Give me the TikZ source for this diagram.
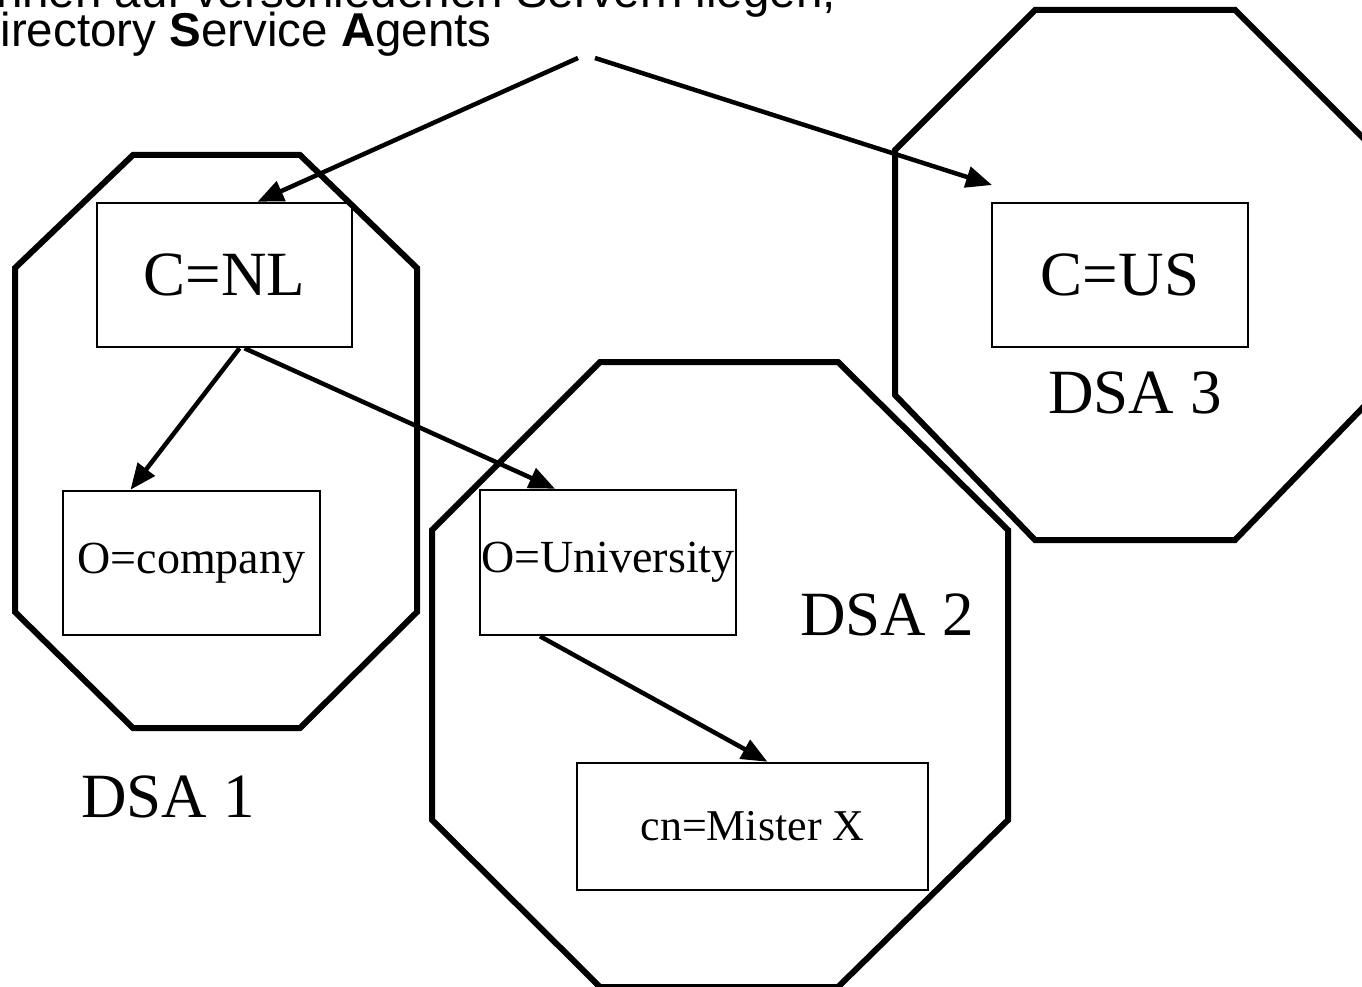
\documentclass[tikz,border=0pt]{standalone}
\usepackage{fontspec}
\setmainfont{Liberation Serif}
\newfontfamily\titlefont{Liberation Sans}
\usetikzlibrary{arrows.meta,calc}
\begin{document}
\begin{tikzpicture}[x=1pt,y=-1pt,
  oct/.style={line width=6pt, line join=miter},
  entry/.style={draw, line width=2.5pt, inner sep=0pt},
  big/.style={font=\fontsize{63}{63}\selectfont},
  small/.style={font=\fontsize{46}{46}\selectfont},
  lbl/.style={inner sep=0pt, font=\fontsize{63}{63}\selectfont},
  arr/.style={line width=4.5pt, -{Triangle[length=26pt,width=21pt]}},
  ttl/.style={inner sep=0pt, font=\titlefont\fontsize{47.5}{47.5}\selectfont}]
\useasboundingbox (0,0) rectangle (1362,987);
\clip (0,0) rectangle (1362,987);
\fill[white] (0,0) rectangle (1362,987);

% title (cut by the picture's edge)
\node[ttl, anchor=base east] (t1) at (836,8) {können auf verschiedenen Servern liegen,};
\node[ttl, anchor=base west] (t2) at (-34,47) {Directory \textbf{S}ervice \textbf{A}gents};

% octagons
\draw[oct] (133,155) -- (300,155) -- (417,268) -- (417,612) -- (300,728) -- (133,728) -- (15,612) -- (15,268) -- cycle;
\draw[oct] (600,362) -- (838,362) -- (1008,530) -- (1008,820) -- (838,987) -- (600,987) -- (432,820) -- (432,530) -- cycle;
\draw[oct] (1035,10) -- (1235,10) -- (1375,150) -- (1375,395) -- (1235,540) -- (1035,540) -- (895,395) -- (895,150) -- cycle;

% entries
\node[entry, big, minimum width=255pt, minimum height=144pt] (cnl) at (224.5,275) {C=NL};
\node[entry, big, minimum width=256pt, minimum height=144pt] (cus) at (1120,275) {C=US};
\node[entry, small, minimum width=257pt, minimum height=144pt] (ocomp) at (191.5,563) {O=company};
\node[entry, small, minimum width=256pt, minimum height=145pt] (ouni) at (608,562.5) {O=University};
\node[entry, font=\fontsize{44}{44}\selectfont, minimum width=351pt, minimum height=127pt] (mx) at (752.5,826.5) {cn=Mister X};

% labels
\node[lbl] (dsa1) at (168,797) {DSA 1};
\node[lbl] (dsa2) at (887,615) {DSA 2};
\node[lbl] (dsa3) at (1135,393) {DSA 3};

% connectors
\coordinate (s1) at (578,58);
\coordinate (s2) at (595,58);
\coordinate (e2) at (992,185);
\draw[arr] (s1) -- ($(cnl.north)+(33,0)$);
\draw[arr] (s2) -- (e2);
\draw[arr] ($(cnl.south)+(15,0)$) -- ($(ocomp.north)+(-61,0)$);
\draw[arr] ($(cnl.south)+(20,0)$) -- ($(ouni.north)+(-53,0)$);
\draw[arr] ($(ouni.south)+(-68,0)$) -- ($(mx.north)+(15,0)$);
\end{tikzpicture}
\end{document}
